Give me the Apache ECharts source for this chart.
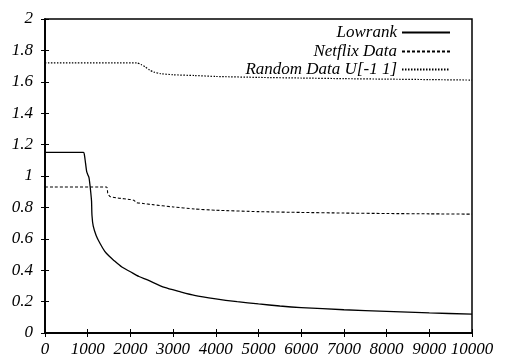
<!DOCTYPE html>
<html><head><meta charset="utf-8">
<script src="https://cdn.jsdelivr.net/npm/echarts@6/dist/echarts.min.js"></script>
<style>html,body{margin:0;padding:0;background:#fff}#c{width:505px;height:358px}</style>
</head><body><div id="c"></div>
<script>
const seriesNames = ['Lowrank', 'Netflix Data', 'Random Data U[-1 1]'];
const xTicks = [0,1000,2000,3000,4000,5000,6000,7000,8000,9000,10000];
const yTicks = [0,0.2,0.4,0.6,0.8,1,1.2,1.4,1.6,1.8,2];
const lowrankX = [0,900,920,950,975,1000,1030,1050,1070,1090,1100,1130,1200,1290,1400,1500,1600,1800,2000,2200,2400,2800,3160,3500,4000,4500,5000,5500,6000,7000,8000,9000,10000];
const lowrankY = [1.15,1.15,1.14,1.08,1.03,1.01,0.99,0.95,0.90,0.84,0.75,0.68,0.62,0.57,0.52,0.49,0.465,0.42,0.39,0.36,0.338,0.29,0.263,0.24,0.218,0.20,0.185,0.172,0.162,0.148,0.138,0.128,0.12];
const netflixX = [0,1440,1470,1520,1700,2000,2080,2150,2300,2500,3000,3500,4000,5000,6000,7000,8000,9000,10000];
const netflixY = [0.93,0.93,0.89,0.87,0.86,0.85,0.845,0.83,0.825,0.818,0.803,0.79,0.782,0.773,0.768,0.764,0.761,0.759,0.757];
const randomX = [0,2150,2250,2350,2450,2550,2700,3000,3500,4000,5000,6000,7000,8000,9000,10000];
const randomY = [1.72,1.72,1.71,1.695,1.675,1.662,1.652,1.645,1.64,1.634,1.628,1.624,1.62,1.617,1.614,1.611];

const zip = (xs, ys) => xs.map((x, i) => [x, ys[i]]);
const font = {fontFamily: 'Liberation Serif', fontStyle: 'italic', fontWeight: 'normal', fontSize: 17, color: '#000'};
const chart = echarts.init(document.getElementById('c'), null, {renderer: 'canvas'});
const axisLineStyle = {show: true, lineStyle: {color: '#000', width: 1.5}};
const tickStyle = {show: true, inside: true, length: 4, lineStyle: {color: '#000', width: 1}};
const legendBase = (name, top) => ({
  data: [name], orient: 'vertical', right: 54, top: top, align: 'right',
  itemWidth: 48, itemHeight: 10, itemGap: 0, padding: 0,
  itemStyle: {opacity: 0},
  textStyle: Object.assign({}, font),
  selectedMode: false
});
chart.setOption({
  animation: false,
  grid: {left: 45, right: 33, top: 19, bottom: 25, show: true, borderColor: '#000', borderWidth: 1.5},
  legend: [legendBase(seriesNames[0], 24), legendBase(seriesNames[1], 43), legendBase(seriesNames[2], 61)],
  xAxis: [{
    type: 'value', min: 0, max: 10000, interval: 1000,
    axisLine: axisLineStyle, axisTick: tickStyle, splitLine: {show: false},
    axisLabel: Object.assign({}, font, {margin: 8,
      formatter: v => xTicks.includes(v) ? String(v) : ''})
  }, {
    type: 'value', position: 'top', min: 0, max: 10000, interval: 1000,
    axisLine: axisLineStyle, axisTick: tickStyle, splitLine: {show: false}, axisLabel: {show: false}
  }],
  yAxis: [{
    type: 'value', min: 0, max: 2, interval: 0.2,
    axisLine: axisLineStyle, axisTick: tickStyle, splitLine: {show: false},
    axisLabel: Object.assign({}, font, {margin: 12,
      formatter: v => {const t = yTicks.find(t => Math.abs(t - v) < 1e-9); return t === undefined ? '' : String(t);}})
  }, {
    type: 'value', position: 'right', min: 0, max: 2, interval: 0.2,
    axisLine: axisLineStyle, axisTick: tickStyle, splitLine: {show: false}, axisLabel: {show: false}
  }],
  series: [
    {name: seriesNames[0], type: 'line', data: zip(lowrankX, lowrankY), symbol: 'none', smooth: 0.25,
     lineStyle: {color: '#000', width: 1.3, type: 'solid'}, itemStyle: {color: '#000'}},
    {name: seriesNames[1], type: 'line', data: zip(netflixX, netflixY), symbol: 'none', smooth: 0.2,
     lineStyle: {color: '#000', width: 1.1, type: [3, 2]}, itemStyle: {color: '#000'}},
    {name: seriesNames[2], type: 'line', data: zip(randomX, randomY), symbol: 'none', smooth: 0.2,
     lineStyle: {color: '#000', width: 1.2, type: [1.5, 1.5]}, itemStyle: {color: '#000'}}
  ]
});
</script></body></html>
